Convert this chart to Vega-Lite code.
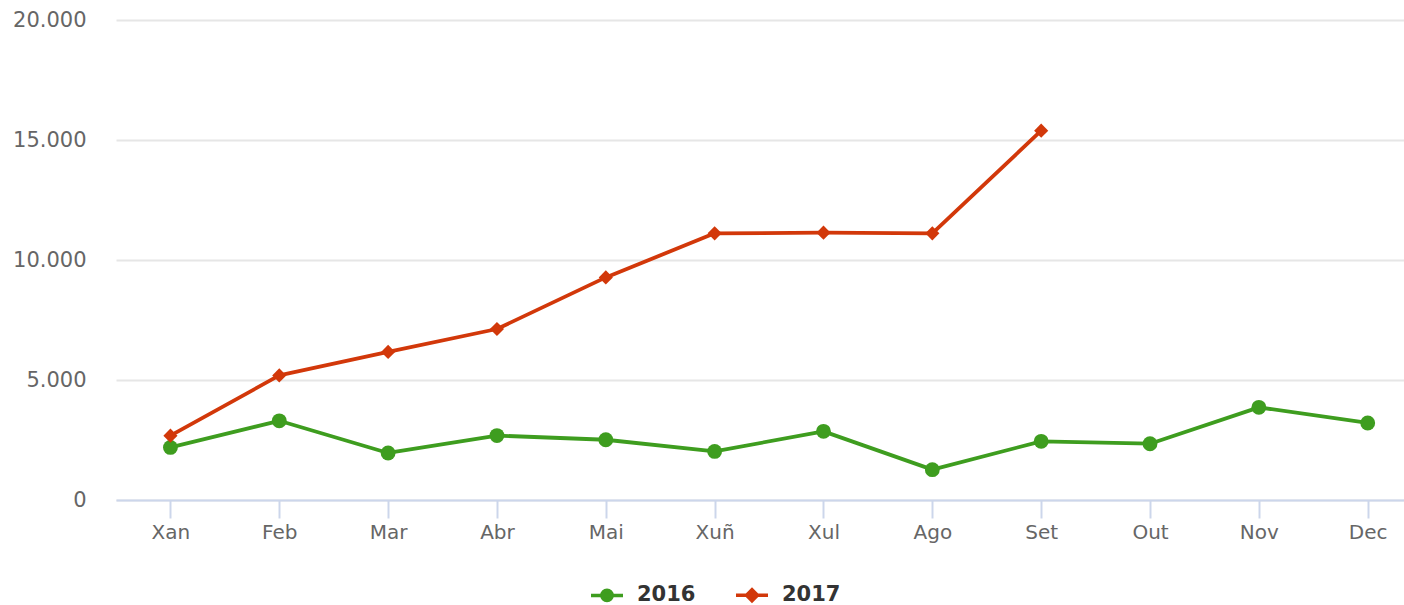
{
  "$schema": "https://vega.github.io/schema/vega-lite/v6.json",
  "width": 1288,
  "height": 480,
  "autosize": {"type": "none"},
  "padding": {"left": 116, "top": 20, "right": 0, "bottom": 105},
  "background": "#ffffff",
  "data": {
    "values": [
      {"month": "Xan", "year": "2016", "value": 2190},
      {"month": "Feb", "year": "2016", "value": 3300},
      {"month": "Mar", "year": "2016", "value": 1960},
      {"month": "Abr", "year": "2016", "value": 2685},
      {"month": "Mai", "year": "2016", "value": 2510},
      {"month": "Xuñ", "year": "2016", "value": 2025},
      {"month": "Xul", "year": "2016", "value": 2860},
      {"month": "Ago", "year": "2016", "value": 1265},
      {"month": "Set", "year": "2016", "value": 2445},
      {"month": "Out", "year": "2016", "value": 2345},
      {"month": "Nov", "year": "2016", "value": 3860},
      {"month": "Dec", "year": "2016", "value": 3210},
      {"month": "Xan", "year": "2017", "value": 2680},
      {"month": "Feb", "year": "2017", "value": 5190},
      {"month": "Mar", "year": "2017", "value": 6170},
      {"month": "Abr", "year": "2017", "value": 7125},
      {"month": "Mai", "year": "2017", "value": 9275},
      {"month": "Xuñ", "year": "2017", "value": 11110},
      {"month": "Xul", "year": "2017", "value": 11140},
      {"month": "Ago", "year": "2017", "value": 11110},
      {"month": "Set", "year": "2017", "value": 15390}
    ]
  },
  "encoding": {
    "x": {
      "field": "month",
      "type": "ordinal",
      "sort": ["Xan", "Feb", "Mar", "Abr", "Mai", "Xuñ", "Xul", "Ago", "Set", "Out", "Nov", "Dec"],
      "scale": {"type": "point", "padding": 0.4167, "align": 0.6},
      "axis": {
        "title": null,
        "labelAngle": 0,
        "labelFont": "DejaVu Sans",
        "labelFontSize": 20,
        "labelColor": "#666666",
        "labelPadding": 4,
        "domainColor": "#ccd6eb",
        "domainWidth": 2,
        "tickColor": "#ccd6eb",
        "tickWidth": 2,
        "tickSize": 18,
        "grid": false
      }
    },
    "y": {
      "field": "value",
      "type": "quantitative",
      "scale": {"domain": [0, 20000], "nice": false},
      "axis": {
        "title": null,
        "values": [0, 5000, 10000, 15000, 20000],
        "labelExpr": "replace(format(datum.value, ','), ',', '.')",
        "labelFont": "DejaVu Sans",
        "labelFontSize": 21,
        "labelColor": "#666666",
        "labelPadding": 30,
        "ticks": false,
        "domain": false,
        "grid": true,
        "gridColor": "#e6e6e6",
        "gridWidth": 2
      }
    },
    "color": {
      "field": "year",
      "type": "nominal",
      "scale": {"domain": ["2016", "2017"], "range": ["#3e9d1f", "#d2380a"]},
      "legend": {
        "title": null,
        "orient": "none",
        "direction": "horizontal",
        "legendX": 473,
        "legendY": 557,
        "padding": 0,
        "symbolSize": 1024,
        "symbolStrokeWidth": 3.5,
        "labelFont": "DejaVu Sans",
        "labelFontSize": 21,
        "labelFontWeight": "bold",
        "labelColor": "#333333",
        "labelOffset": 12,
        "columnPadding": 33,
        "encode": {
          "symbols": {
            "update": {
              "shape": {"signal": "datum.value === '2016' ? 'M-1,0L1,0M0.32,0A0.32,0.32,0,1,1,-0.32,0A0.32,0.32,0,1,1,0.32,0Z' : 'M-1,0L1,0M0,-0.34L0.34,0L0,0.34L-0.34,0Z'"},
              "fill": {"signal": "datum.value === '2016' ? '#3e9d1f' : '#d2380a'"},
              "stroke": {"signal": "datum.value === '2016' ? '#3e9d1f' : '#d2380a'"},
              "strokeWidth": {"value": 3.5},
              "opacity": {"value": 1},
              "fillOpacity": {"value": 1}
            }
          }
        }
      }
    }
  },
  "layer": [
    {"mark": {"type": "line", "strokeWidth": 3.8, "strokeJoin": "round"}},
    {
      "transform": [{"filter": "datum.year === '2016'"}],
      "mark": {"type": "point", "filled": true, "opacity": 1, "size": 220, "shape": "circle"}
    },
    {
      "transform": [{"filter": "datum.year === '2017'"}],
      "mark": {"type": "point", "filled": true, "opacity": 1, "size": 200, "shape": "diamond"}
    }
  ],
  "config": {"view": {"stroke": null}}
}
